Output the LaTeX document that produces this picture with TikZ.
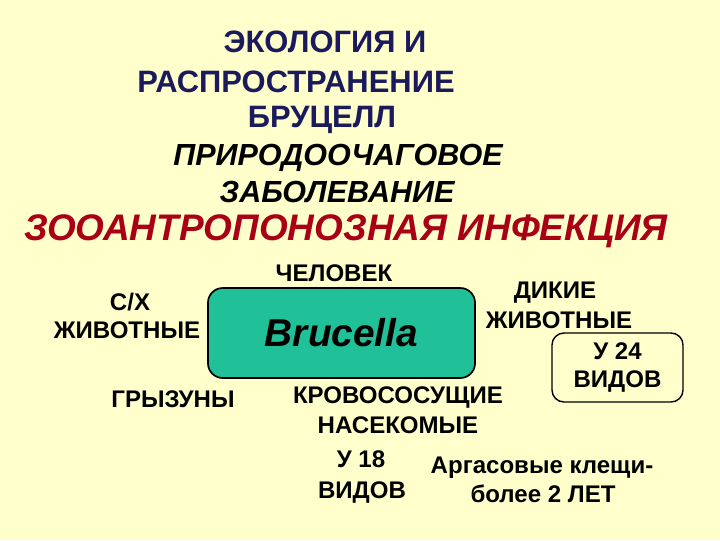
\documentclass[tikz,border=0pt]{standalone}
\usepackage{fontspec}
\setmainfont{Liberation Sans}
\usetikzlibrary{positioning}
\definecolor{slidebg}{RGB}{255,255,204}
\definecolor{titleblue}{RGB}{26,26,92}
\definecolor{infred}{RGB}{170,0,22}
\definecolor{germgreen}{RGB}{32,192,152}
\tikzset{
    headline/.style={
        anchor = base,
        text = titleblue,
        font = \bfseries\fontsize{22}{26}\selectfont
    },
    subline/.style={
        anchor = base,
        font = \bfseries\itshape\fontsize{21.7}{26}\selectfont
    },
    label/.style={
        anchor = base,
        font = \bfseries\fontsize{17.1}{21}\selectfont
    },
    germbox/.style={
        draw, line width = 1.2pt, fill = germgreen,
        rounded corners = 0.37cm,
        minimum width = 6.675cm, minimum height = 2.25cm,
        font = \bfseries\itshape\fontsize{27.6}{32}\selectfont
    },
    countbox/.style={
        draw, line width = 1pt, rounded corners = 0.3cm,
        minimum width = 3.275cm, minimum height = 1.725cm,
        align = center, inner sep = 0pt,
        font = \bfseries\fontsize{17.1}{20}\selectfont
    }
}
\begin{document}
\begin{tikzpicture}[x=0.025cm, y=-0.025cm]

                            \fill[slidebg] (0,0) rectangle (720,540);
                            \useasboundingbox (0,0) rectangle (720,540);

                            \node[headline] (eco) at (325,52) {ЭКОЛОГИЯ И};
                            \node[headline] (spread) at (296,92) {РАСПРОСТРАНЕНИЕ};
                            \node[headline] (bruc) at (322,127) {БРУЦЕЛЛ};
                            \node[subline] (natural) at (338,165) {ПРИРОДООЧАГОВОЕ};
                            \node[subline] (disease) at (337,202) {ЗАБОЛЕВАНИЕ};
                            \node[anchor = base, text = infred, font = \bfseries\itshape\fontsize{26.3}{30}\selectfont] (zoo) at (346,240) {ЗООАНТРОПОНОЗНАЯ ИНФЕКЦИЯ};

                            \node[germbox] (germ) at (341.5,333) {Brucella};
                            \node[label] (human) at (334,281) {ЧЕЛОВЕК};
                            \node[label] (farm1) at (130,310) {С/Х};
                            \node[label] (farm2) at (127,338) {ЖИВОТНЫЕ};
                            \node[label] (rodent) at (173,407) {ГРЫЗУНЫ};
                            \node[label] (wild1) at (555,298) {ДИКИЕ};
                            \node[label] (wild2) at (559,328) {ЖИВОТНЫЕ};
                            \node[countbox] (wildcount) at (617.5,367.5) {У 24\\ВИДОВ};
                            \node[label] (insect1) at (398,403) {КРОВОСОСУЩИЕ};
                            \node[label] (insect2) at (398,433) {НАСЕКОМЫЕ};
                            \node[label] (insectcount1) at (361,467) {У 18};
                            \node[label] (insectcount2) at (362,498) {ВИДОВ};
                            \node[label] (tick1) at (542,473) {Аргасовые клещи-};
                            \node[label] (tick2) at (543,502) {более 2 ЛЕТ};

                        \end{tikzpicture}
\end{document}
